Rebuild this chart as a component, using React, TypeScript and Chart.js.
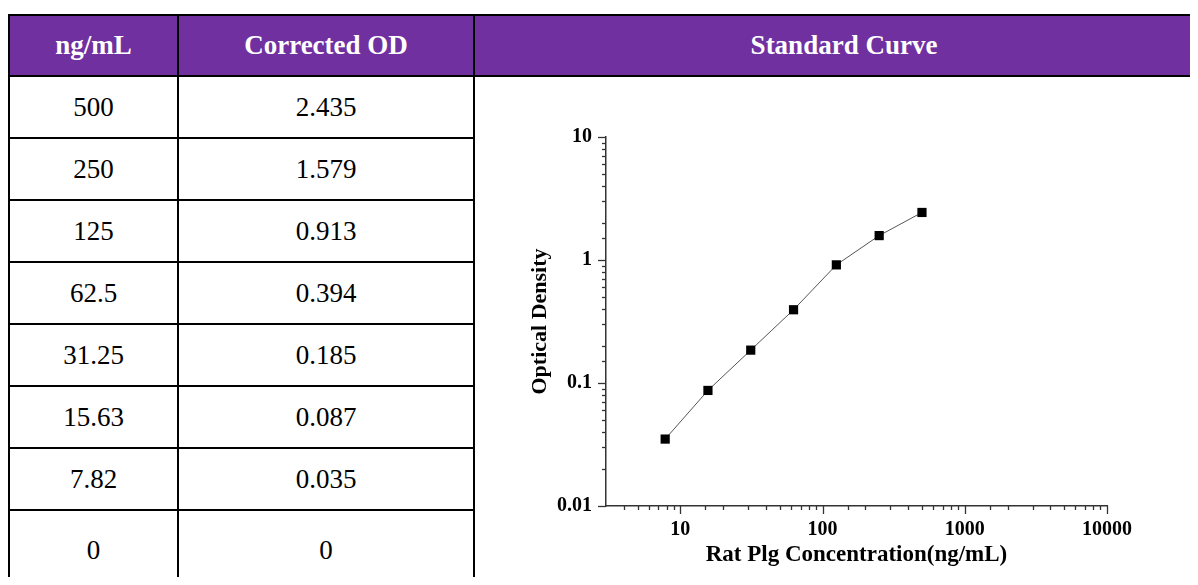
import React, { useEffect, useRef } from "react";
import { Chart, registerables } from "chart.js";

Chart.register(...registerables);

// ---- data ----
const headers = ["ng/mL", "Corrected OD", "Standard Curve"];
const concentrations = ["500", "250", "125", "62.5", "31.25", "15.63", "7.82", "0"];
const correctedOD = ["2.435", "1.579", "0.913", "0.394", "0.185", "0.087", "0.035", "0"];
const curveX = [7.82, 15.63, 31.25, 62.5, 125, 250, 500];
const curveY = [0.035, 0.087, 0.185, 0.394, 0.913, 1.579, 2.435];
const xRange = [3, 10000];
const yRange = [0.01, 10];
const xTitle = "Rat Plg Concentration(ng/mL)";
const yTitle = "Optical Density";

// ---- style ----
const PURPLE = "#7030A0";
const AXIS_COLOR = "#333333";
const SERIF = "'Liberation Serif', 'Times New Roman', serif";

const isPow10 = (v: number) => {
  const l = Math.log10(v);
  return Math.abs(l - Math.round(l)) < 1e-9;
};

const tickMarks = {
  id: "tickMarks",
  afterDraw(chart: any) {
    const ctx = chart.ctx;
    const { left, bottom } = chart.chartArea;
    ctx.save();
    ctx.strokeStyle = AXIS_COLOR;
    ctx.lineWidth = 1.3;
    const xs = chart.scales.x;
    xs.ticks.forEach((t: any) => {
      const p = Math.round(xs.getPixelForValue(t.value)) + 0.5;
      if (p < xs.left + 1 || p > xs.right + 1) return;
      const len = isPow10(t.value) ? 8 : 4;
      ctx.beginPath();
      ctx.moveTo(p, bottom);
      ctx.lineTo(p, bottom + len);
      ctx.stroke();
    });
    const ys = chart.scales.y;
    ys.ticks.forEach((t: any) => {
      const p = Math.round(ys.getPixelForValue(t.value)) + 0.5;
      const len = isPow10(t.value) ? 8 : 4;
      ctx.beginPath();
      ctx.moveTo(left, p);
      ctx.lineTo(left - len, p);
      ctx.stroke();
    });
    ctx.restore();
  },
};

function StandardCurve() {
  const ref = useRef<HTMLCanvasElement | null>(null);
  useEffect(() => {
    if (!ref.current) return;
    const chart = new Chart(ref.current, {
      type: "scatter",
      data: {
        datasets: [
          {
            data: curveX.map((x, i) => ({ x, y: curveY[i] })),
            showLine: true,
            borderColor: "#555555",
            borderWidth: 1,
            pointStyle: "rect",
            pointRadius: 6.5,
            pointBackgroundColor: "#000000",
            pointBorderColor: "#000000",
            pointBorderWidth: 0,
          },
        ],
      },
      options: {
        animation: false,
        responsive: false,
        devicePixelRatio: 1,
        layout: { padding: { left: 0, right: 73, top: 47, bottom: 0 } },
        plugins: { legend: { display: false }, tooltip: { enabled: false } },
        scales: {
          x: {
            type: "logarithmic",
            min: xRange[0],
            max: xRange[1],
            afterFit: (s: any) => {
              s.height = 74;
            },
            grid: { display: true, drawOnChartArea: false, drawTicks: true, tickLength: 8, color: "rgba(0,0,0,0)" },
            border: { display: true, color: AXIS_COLOR, width: 1.5 },
            ticks: {
              autoSkip: false,
              maxRotation: 0,
              padding: 4,
              color: "#000",
              font: { family: SERIF, size: 20, weight: "bold" },
              callback: (v: any) => (isPow10(Number(v)) ? String(Math.round(Number(v))) : ""),
            },
            title: {
              display: true,
              text: xTitle,
              color: "#000",
              font: { family: SERIF, size: 23, weight: "bold" },
              padding: { top: 0, bottom: 11 },
            },
          },
          y: {
            type: "logarithmic",
            min: yRange[0],
            max: yRange[1],
            afterFit: (s: any) => {
              s.width = 126;
            },
            grid: { display: true, drawOnChartArea: false, drawTicks: true, tickLength: 8, color: "rgba(0,0,0,0)" },
            border: { display: true, color: AXIS_COLOR, width: 1.5 },
            ticks: {
              autoSkip: false,
              padding: 6,
              color: "#000",
              font: { family: SERIF, size: 20, weight: "bold" },
              callback: (v: any) => {
                const n = Number(v);
                if (!isPow10(n)) return "";
                const e = Math.round(Math.log10(n));
                return e < 0 ? n.toFixed(-e) : String(Math.round(n));
              },
            },
            title: {
              display: true,
              text: yTitle,
              color: "#000",
              font: { family: SERIF, size: 22, weight: "bold" },
              padding: { top: 47, bottom: 0 },
            },
          },
        },
      },
      plugins: [tickMarks],
    } as any);
    return () => chart.destroy();
  }, []);
  return (
    <canvas
      ref={ref}
      width={700}
      height={490}
      style={{ position: "absolute", left: 472, top: 82, width: 700, height: 490 }}
    />
  );
}

export default function App() {
  useEffect(() => {
    document.documentElement.style.overflow = "hidden";
  }, []);

  const colX = [0, 169, 465, 1205];
  const headerTop = 6;
  const bodyTop = 67;
  const rowH = 62;

  const cell = (left: number, top: number, w: number, h: number, extra: React.CSSProperties = {}) => ({
    position: "absolute" as const,
    left,
    top,
    width: w,
    height: h,
    boxSizing: "border-box" as const,
    border: "2px solid #000",
    display: "flex",
    alignItems: "center",
    justifyContent: "center",
    fontFamily: SERIF,
    fontSize: 27,
    color: "#000",
    ...extra,
  });

  return (
    <div style={{ position: "relative", width: 1190, height: 577, overflow: "hidden", marginBottom: -8 }}>
      {headers.map((h, i) => (
        <div
          key={"h" + i}
          style={cell(colX[i], headerTop, colX[i + 1] - colX[i] + 2, bodyTop - headerTop + 2, {
            background: PURPLE,
            color: "#fff",
            fontWeight: "bold",
          })}
        >
          {h}
        </div>
      ))}
      {concentrations.map((c, r) => {
        const top = bodyTop + rowH * r;
        const h = r === concentrations.length - 1 ? 82 : rowH + 2;
        return (
          <React.Fragment key={"r" + r}>
            <div style={cell(colX[0], top, colX[1] - colX[0] + 2, h)}>{c}</div>
            <div style={cell(colX[1], top, colX[2] - colX[1] + 2, h)}>{correctedOD[r]}</div>
          </React.Fragment>
        );
      })}
      <div style={cell(colX[2], bodyTop, colX[3] - colX[2] + 2, 600)} />
      <StandardCurve />
    </div>
  );
}
